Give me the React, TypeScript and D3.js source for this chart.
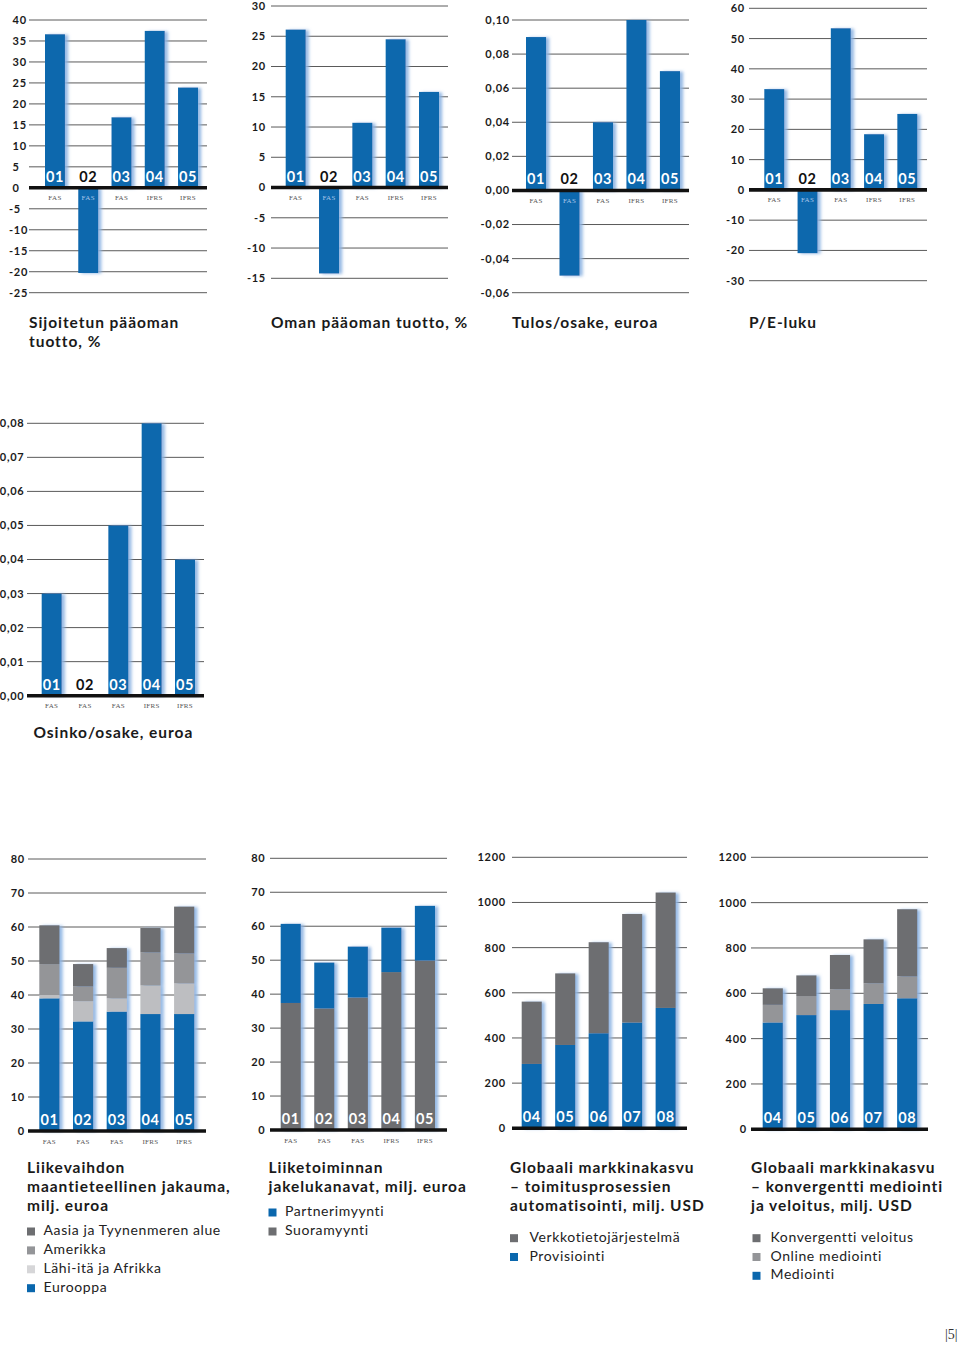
import React from "react";
import * as d3 from "d3";

// ---------- DATA ----------
const years = ["01", "02", "03", "04", "05"];
const standards = ["FAS", "FAS", "FAS", "IFRS", "IFRS"];

const roceValues = [36.6, -20.3, 16.8, 37.4, 23.9];
const roceTicks = [40, 35, 30, 25, 20, 15, 10, 5, 0, -5, -10, -15, -20, -25];

const roeValues = [26.1, -14.2, 10.7, 24.5, 15.8];
const roeTicks = [30, 25, 20, 15, 10, 5, 0, -5, -10, -15];

const epsValues = [0.09, -0.05, 0.04, 0.1, 0.07];
const epsTicks = [0.1, 0.08, 0.06, 0.04, 0.02, 0, -0.02, -0.04, -0.06];

const peValues = [33.3, -20.9, 53.4, 18.4, 25.1];
const peTicks = [60, 50, 40, 30, 20, 10, 0, -10, -20, -30];

const dividendValues = [0.03, 0, 0.05, 0.08, 0.04];
const dividendTicks = [0.08, 0.07, 0.06, 0.05, 0.04, 0.03, 0.02, 0.01, 0];

const geoEurope = [39.0, 32.2, 35.1, 34.4, 34.4];
const geoMiddleEastAfrica = [1.0, 6.0, 3.9, 8.4, 9.0];
const geoAmericas = [9.1, 4.3, 9.0, 9.7, 8.8];
const geoAsiaPacific = [11.4, 6.6, 5.8, 7.2, 13.8];
const revenueTicks = [80, 70, 60, 50, 40, 30, 20, 10, 0];

const channelDirect = [37.4, 35.8, 39.0, 46.5, 49.9];
const channelPartner = [23.3, 13.5, 15.0, 13.1, 16.1];

const marketYears = ["04", "05", "06", "07", "08"];
const provisioning = [285, 369, 421, 468, 533];
const networkInventory = [276, 317, 403, 481, 511];
const mediation = [471, 504, 526, 553, 578];
const onlineMediation = [78, 84, 92, 91, 96];
const convergentCharging = [73, 91, 151, 194, 297];
const marketTicks = [1200, 1000, 800, 600, 400, 200, 0];

// ---------- STYLE ----------
const BLUE = "#0a67ad";
const DARK = "#6d6e71";
const MID = "#949598";
const LIGHT = "#bdbec1";
const LEGEND_LIGHT = "#d6d6d8";
const SANS = "Lato, 'Open Sans', sans-serif";
const SERIF = "'Liberation Serif', 'DejaVu Serif', serif";

const loc = d3.formatLocale({ decimal: ",", thousands: "", grouping: [3], currency: ["", ""], minus: "-" });
const fmtInt = loc.format("d");
const fmt2 = loc.format(".2f");

type Cfg = {
  gx0: number; gx1: number; bx0: number; bx1: number;
  yTop: number; yBottom: number;
  labelX: number; anchor: "start" | "end";
};

function Grid({ cfg, y, ticks, fmt }: any) {
  return (
    <g>
      {ticks.map((t: number) => (
        <g key={t}>
          <line x1={cfg.gx0} x2={cfg.gx1} y1={y(t)} y2={y(t)} stroke="#5a5a5a" strokeWidth={1} />
          <text
            x={cfg.anchor === "start" && t < 0 ? cfg.labelX - 3.5 : cfg.labelX}
            y={y(t)}
            dy="0.36em"
            textAnchor={cfg.anchor}
            fontFamily={SANS}
            fontWeight={700}
            fontSize={11}
            letterSpacing={0.75}
            fill="#1a1a1a"
          >
            {fmt(t)}
          </text>
        </g>
      ))}
    </g>
  );
}

function SimpleBars({ cfg, values, ticks, fmt }: any) {
  const y = d3.scaleLinear().domain([d3.min(ticks) as number, d3.max(ticks) as number]).range([cfg.yBottom, cfg.yTop]);
  const x = d3.scaleBand().domain(years).range([cfg.bx0, cfg.bx1]).paddingInner(0.4);
  const y0 = y(0);
  return (
    <g>
      <Grid cfg={cfg} y={y} ticks={ticks} fmt={fmt} />
      {values.map((v: number, i: number) =>
        v === 0 ? null : (
          <rect
            key={i}
            x={x(years[i])}
            y={Math.min(y(v), y0)}
            width={x.bandwidth()}
            height={Math.abs(y(v) - y0)}
            fill={BLUE}
            filter="url(#glow)"
          />
        )
      )}
      <line x1={cfg.gx0} x2={cfg.gx1} y1={y0} y2={y0} stroke="#111" strokeWidth={3.6} />
      {values.map((v: number, i: number) => (
        <g key={"l" + i}>
          <text
            x={(x(years[i]) as number) + x.bandwidth() / 2}
            y={y0 - 6}
            textAnchor="middle"
            fontFamily={SANS}
            fontWeight={700}
            fontSize={14.5}
            letterSpacing={0.6}
            fill={v > 0 ? "#fff" : "#111"}
          >
            {years[i]}
          </text>
          <text
            x={(x(years[i]) as number) + x.bandwidth() / 2}
            y={y0 + 12.5}
            textAnchor="middle"
            fontFamily={SERIF}
            fontSize={7}
            letterSpacing={0.3}
            fill={v < 0 ? "#a9c6ea" : "#555"}
          >
            {standards[i]}
          </text>
        </g>
      ))}
    </g>
  );
}

function StackedBars({ cfg, cats, series, colors, ticks, showStd }: any) {
  const y = d3.scaleLinear().domain([0, d3.max(ticks) as number]).range([cfg.yBottom, cfg.yTop]);
  const x = d3.scaleBand().domain(cats).range([cfg.bx0, cfg.bx1]).paddingInner(0.4);
  const rows = cats.map((c: string, i: number) => {
    const o: any = { cat: c };
    series.forEach((s: number[], k: number) => (o["s" + k] = s[i]));
    return o;
  });
  const keys = series.map((_: any, k: number) => "s" + k);
  const stacked = d3.stack().keys(keys)(rows);
  const y0 = y(0);
  return (
    <g>
      <Grid cfg={cfg} y={y} ticks={ticks} fmt={fmtInt} />
      {cats.map((c: string, i: number) => (
        <g key={c} filter="url(#glow)">
          {stacked.map((layer: any, k: number) => (
            <rect
              key={k}
              x={x(c)}
              y={y(layer[i][1])}
              width={x.bandwidth()}
              height={y(layer[i][0]) - y(layer[i][1])}
              fill={colors[k]}
            />
          ))}
        </g>
      ))}
      <line x1={cfg.gx0} x2={cfg.gx1} y1={y0} y2={y0} stroke="#111" strokeWidth={3.6} />
      {cats.map((c: string, i: number) => (
        <g key={"l" + c}>
          <text
            x={(x(c) as number) + x.bandwidth() / 2}
            y={y0 - 6}
            textAnchor="middle"
            fontFamily={SANS}
            fontWeight={700}
            fontSize={14.5}
            letterSpacing={0.6}
            fill="#fff"
          >
            {c}
          </text>
          {showStd && (
            <text
              x={(x(c) as number) + x.bandwidth() / 2}
              y={y0 + 12.5}
              textAnchor="middle"
              fontFamily={SERIF}
              fontSize={7}
              letterSpacing={0.3}
              fill="#555"
            >
              {standards[i]}
            </text>
          )}
        </g>
      ))}
    </g>
  );
}

function Title({ x, y, lines }: any) {
  return (
    <text fontFamily={SANS} fontWeight={700} fontSize={15.5} letterSpacing={0.95} fill="#1a1a1a">
      {lines.map((l: string, i: number) => (
        <tspan key={i} x={x} y={y + i * 19}>
          {l}
        </tspan>
      ))}
    </text>
  );
}

function Legend({ x, tx, y, items, colors, step }: any) {
  return (
    <g>
      {items.map((it: string, i: number) => (
        <g key={it}>
          <rect x={x} y={y + i * step - 7.5} width={8} height={8} fill={colors[i]} />
          <text x={tx} y={y + i * step} fontFamily={SANS} fontSize={14} letterSpacing={0.6} fill="#222">
            {it}
          </text>
        </g>
      ))}
    </g>
  );
}

const c1: Cfg = { gx0: 29, gx1: 207, bx0: 45, bx1: 198, yTop: 20, yBottom: 292.7, labelX: 12.5, anchor: "start" };
const c2: Cfg = { gx0: 271, gx1: 448, bx0: 285.7, bx1: 439, yTop: 6, yBottom: 278.3, labelX: 266, anchor: "end" };
const c3: Cfg = { gx0: 512, gx1: 689, bx0: 526, bx1: 680, yTop: 20, yBottom: 292.7, labelX: 510, anchor: "end" };
const c4: Cfg = { gx0: 749, gx1: 927, bx0: 764.3, bx1: 917.3, yTop: 8.3, yBottom: 280.7, labelX: 745, anchor: "end" };
const c5: Cfg = { gx0: 27, gx1: 204, bx0: 41.7, bx1: 195, yTop: 423.3, yBottom: 695.7, labelX: 24.5, anchor: "end" };
const c6: Cfg = { gx0: 28, gx1: 206, bx0: 39.3, bx1: 194.3, yTop: 859, yBottom: 1131, labelX: 25, anchor: "end" };
const c7: Cfg = { gx0: 270, gx1: 447, bx0: 280.7, bx1: 435, yTop: 858.3, yBottom: 1130, labelX: 265.5, anchor: "end" };
const c8: Cfg = { gx0: 512, gx1: 687, bx0: 521.7, bx1: 675.7, yTop: 857.3, yBottom: 1128.3, labelX: 506, anchor: "end" };
const c9: Cfg = { gx0: 751, gx1: 928, bx0: 762.7, bx1: 917.3, yTop: 857.3, yBottom: 1129.3, labelX: 747, anchor: "end" };

export default function App() {
  return (
    <svg
      width={960}
      height={1346}
      viewBox="0 0 960 1346"
      style={{ position: "absolute", left: 0, top: 0, background: "#fff" }}
    >
      <defs>
        <filter id="glow" x="-30%" y="-10%" width="170%" height="125%">
          <feDropShadow dx={3.2} dy={0.5} stdDeviation={1.8} floodColor="#8db3e2" floodOpacity={0.9} />
        </filter>
      </defs>
      <rect width={960} height={1346} fill="#fff" />

      <SimpleBars cfg={c1} values={roceValues} ticks={roceTicks} fmt={fmtInt} />
      <SimpleBars cfg={c2} values={roeValues} ticks={roeTicks} fmt={fmtInt} />
      <SimpleBars cfg={c3} values={epsValues} ticks={epsTicks} fmt={fmt2} />
      <SimpleBars cfg={c4} values={peValues} ticks={peTicks} fmt={fmtInt} />
      <SimpleBars cfg={c5} values={dividendValues} ticks={dividendTicks} fmt={fmt2} />

      <StackedBars
        cfg={c6}
        cats={years}
        series={[geoEurope, geoMiddleEastAfrica, geoAmericas, geoAsiaPacific]}
        colors={[BLUE, LIGHT, MID, DARK]}
        ticks={revenueTicks}
        showStd
      />
      <StackedBars
        cfg={c7}
        cats={years}
        series={[channelDirect, channelPartner]}
        colors={[DARK, BLUE]}
        ticks={revenueTicks}
        showStd
      />
      <StackedBars
        cfg={c8}
        cats={marketYears}
        series={[provisioning, networkInventory]}
        colors={[BLUE, DARK]}
        ticks={marketTicks}
        showStd={false}
      />
      <StackedBars
        cfg={c9}
        cats={marketYears}
        series={[mediation, onlineMediation, convergentCharging]}
        colors={[BLUE, MID, DARK]}
        ticks={marketTicks}
        showStd={false}
      />

      <Title x={29} y={328} lines={["Sijoitetun pääoman", "tuotto, %"]} />
      <Title x={271} y={328} lines={["Oman pääoman tuotto, %"]} />
      <Title x={512} y={328} lines={["Tulos/osake, euroa"]} />
      <Title x={749} y={328} lines={["P/E-luku"]} />
      <Title x={33.5} y={738} lines={["Osinko/osake, euroa"]} />

      <Title x={27} y={1173} lines={["Liikevaihdon", "maantieteellinen jakauma,", "milj. euroa"]} />
      <Legend
        x={27}
        tx={43.5}
        y={1235}
        step={18.9}
        items={["Aasia ja Tyynenmeren alue", "Amerikka", "Lähi-itä ja Afrikka", "Eurooppa"]}
        colors={[DARK, MID, LEGEND_LIGHT, BLUE]}
      />

      <Title x={268.5} y={1173} lines={["Liiketoiminnan", "jakelukanavat, milj. euroa"]} />
      <Legend x={268.5} tx={285} y={1216} step={19} items={["Partnerimyynti", "Suoramyynti"]} colors={[BLUE, DARK]} />

      <Title x={510} y={1173} lines={["Globaali markkinakasvu", "– toimitusprosessien", "automatisointi, milj. USD"]} />
      <Legend x={510} tx={529.5} y={1241.7} step={18.8} items={["Verkkotietojärjestelmä", "Provisiointi"]} colors={[DARK, BLUE]} />

      <Title x={751} y={1173} lines={["Globaali markkinakasvu", "– konvergentti mediointi", "ja veloitus, milj. USD"]} />
      <Legend
        x={752.5}
        tx={770.5}
        y={1241.7}
        step={18.8}
        items={["Konvergentti veloitus", "Online mediointi", "Mediointi"]}
        colors={[DARK, MID, BLUE]}
      />

      <text x={945} y={1339} fontFamily={SERIF} fontSize={14} fill="#333">
        |5|
      </text>
    </svg>
  );
}
